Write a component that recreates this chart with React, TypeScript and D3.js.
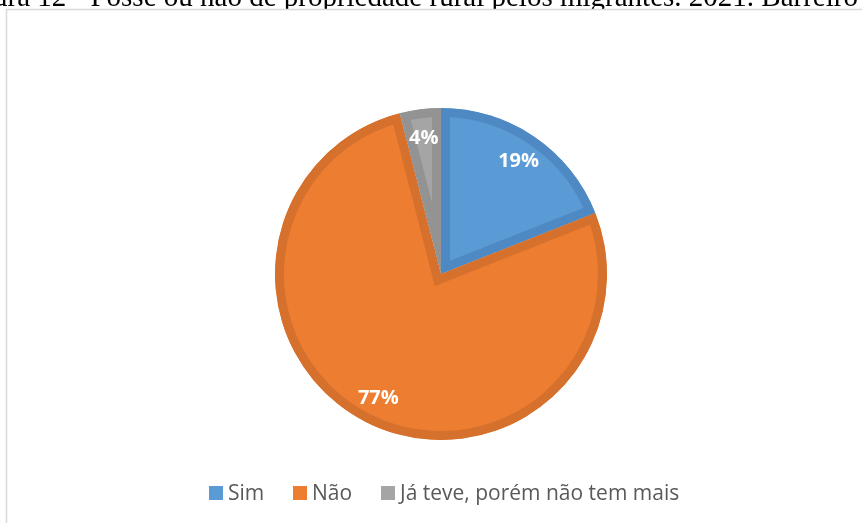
import React, { useEffect, useRef } from "react";
import * as d3 from "d3";

const categories = ["Sim", "Não", "Já teve, porém não tem mais"];
const values = [19, 77, 4];
const labels = ["19%", "77%", "4%"];
const fills = ["#5B9BD5", "#ED7D31", "#A5A5A5"];
const borders = ["#4F89C3", "#D6712D", "#939393"];
const title = "ura 12 - Posse ou não de propriedade rural pelos migrantes. 2021. Barreiro";

const App = () => {
  const svgRef = useRef<SVGSVGElement>(null);

  useEffect(() => {
    const w = 862;
    const h = 523;
    const cx = 441;
    const cy = 274;
    const r = 166;
    const border = 9;

    const svg = d3.select(svgRef.current).attr("width", w).attr("height", h);
    svg.selectAll("*").remove();

    svg
      .append("rect")
      .attr("x", 0)
      .attr("y", 0)
      .attr("width", w)
      .attr("height", h)
      .attr("fill", "#fff");

    // title of the figure, cut off by the screenshot
    svg
      .append("text")
      .attr("x", -7)
      .attr("y", 6)
      .attr("font-family", "'Liberation Serif', 'Times New Roman', serif")
      .attr("font-size", 29)
      .attr("fill", "#000")
      .text(title);

    // frame of the chart area
    svg
      .append("rect")
      .attr("x", 6.5)
      .attr("y", 9.5)
      .attr("width", 900)
      .attr("height", 600)
      .attr("fill", "#fff")
      .attr("stroke", "#D9D9D9")
      .attr("stroke-width", 1.5);

    const pie = d3
      .pie<number>()
      .sort(null)
      .value((d) => d);
    const arcs = pie(values);
    const arc = d3.arc<d3.PieArcDatum<number>>().innerRadius(0).outerRadius(r);
    const labelArc = d3
      .arc<d3.PieArcDatum<number>>()
      .innerRadius(138)
      .outerRadius(138);

    const defs = svg.append("defs");
    arcs.forEach((a, i) => {
      defs
        .append("clipPath")
        .attr("id", "slice-clip-" + i)
        .append("path")
        .attr("d", arc(a))
        .attr("transform", `translate(${cx},${cy})`);
    });

    const g = svg.append("g");
    arcs.forEach((a, i) => {
      const s = g.append("g").attr("clip-path", `url(#slice-clip-${i})`);
      s.append("path")
        .attr("d", arc(a))
        .attr("transform", `translate(${cx},${cy})`)
        .attr("fill", fills[i])
        .attr("stroke", borders[i])
        .attr("stroke-width", border * 2)
        .attr("stroke-linejoin", "miter")
        .attr("stroke-miterlimit", 10);
    });

    g.selectAll(".lbl")
      .data(arcs)
      .enter()
      .append("text")
      .attr("class", "lbl")
      .attr("transform", (d) => {
        const [x, y] = labelArc.centroid(d);
        return `translate(${cx + x},${cy + y})`;
      })
      .attr("text-anchor", "middle")
      .attr("dy", "0.36em")
      .attr("font-family", "'Open Sans', sans-serif")
      .attr("font-weight", "bold")
      .attr("font-size", 20)
      .attr("fill", "#fff")
      .text((d, i) => labels[i]);

    // legend
    const legendX = [209, 293, 381];
    const legend = svg
      .append("g")
      .selectAll("g")
      .data(categories)
      .enter()
      .append("g")
      .attr("transform", (d, i) => `translate(${legendX[i]}, 486)`);
    legend
      .append("rect")
      .attr("width", 14)
      .attr("height", 14)
      .attr("fill", (d, i) => fills[i]);
    legend
      .append("text")
      .attr("x", 19)
      .attr("y", 14)
      .attr("font-family", "'Open Sans', sans-serif")
      .attr("font-size", 21)
      .attr("fill", "#595959")
      .text((d) => d);
  }, []);

  return (
    <div style={{ position: "fixed", left: 0, top: 0, overflow: "hidden" }}>
      <svg ref={svgRef} style={{ display: "block" }}></svg>
    </div>
  );
};

export default App;
